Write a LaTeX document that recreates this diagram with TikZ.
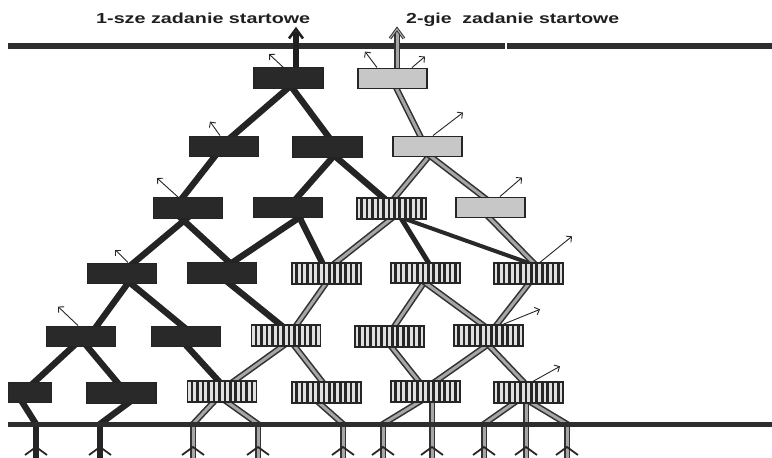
\documentclass[tikz,border=0pt]{standalone}
\usepackage{fontspec}
\setmainfont{Liberation Sans}
\usetikzlibrary{backgrounds,arrows.meta}

\begin{document}
\begin{tikzpicture}[x=1pt,y=-1pt,
  nbox/.style={minimum width=69pt, minimum height=20.5pt, inner sep=0pt, line width=1.4pt},
  darkbox/.style={nbox, draw=black!86, fill=black!84},
  graybox/.style={nbox, draw=black!85, fill=black!22},
  stripebox/.style={nbox, draw=black!85, line width=1.8pt, fill=black!12,
    path picture={\foreach \k in {0,...,11}
      \draw[black!85, line width=2.6pt]
        ([xshift=4.6pt+\k*5.45pt]path picture bounding box.north west) --
        ([xshift=4.6pt+\k*5.45pt]path picture bounding box.south west);}},
  bedge/.style={draw=black!86, line width=6.3pt, shorten <=-5pt, shorten >=-5pt},
  medge/.style={draw=black!84, line width=4pt, shorten <=-5pt, shorten >=-5pt},
  gedge/.style={draw=black!80, line width=1.6pt, double=black!35, double distance=3pt,
    shorten <=-5pt, shorten >=-5pt},
  tostem/.style={shorten >=-1pt},
  bstem/.style={draw=black!86, line width=6pt},
  gstem/.style={draw=black!80, line width=1.6pt, double=black!35, double distance=3pt},
  fletch/.style={draw=black!85, line width=1.8pt},
  rule/.style={draw=black!82, line width=5.5pt},
  tarrow/.style={draw=black!85, line width=0.9pt, -{Straight Barb[length=4pt,width=8pt]}},
  title/.style={anchor=base west, inner sep=0pt, text=black!88},
]
\useasboundingbox (0,0) rectangle (772,458);

% titles
\node[title] (t1) at (96,23) {\resizebox{214pt}{10.5pt}{\bfseries 1-sze zadanie startowe}};
\node[title] (t2) at (406,23) {\resizebox{213pt}{10.5pt}{\bfseries 2-gie\hspace{0.55em}zadanie startowe}};

% row 1
\node[darkbox] (D1) at (288.5,78) {};
\node[graybox] (G1) at (392.5,78.5) {};
% row 2
\node[darkbox] (R2a) at (224,146.5) {};
\node[darkbox] (R2b) at (327.5,147) {};
\node[graybox] (R2c) at (427.5,146.5) {};
% row 3
\node[darkbox] (R3a) at (188,208) {};
\node[darkbox] (R3b) at (288,207.5) {};
\node[stripebox] (R3c) at (391.5,208.5) {};
\node[graybox] (R3d) at (490.5,207.5) {};
% row 4
\node[darkbox] (R4a) at (122,273.5) {};
\node[darkbox] (R4b) at (222,273) {};
\node[stripebox] (R4c) at (326.5,273.5) {};
\node[stripebox] (R4d) at (425.5,273) {};
\node[stripebox] (R4e) at (528.5,273.5) {};
% row 5
\node[darkbox] (R5a) at (81,336.5) {};
\node[darkbox] (R5b) at (186,336.5) {};
\node[stripebox] (R5c) at (286,335.5) {};
\node[stripebox] (R5d) at (389.5,336.5) {};
\node[stripebox] (R5e) at (488.5,335.5) {};
% row 6
\node[darkbox, minimum width=43pt] (R6a) at (30,392.5) {};
\node[darkbox] (R6b) at (121.5,393) {};
\node[stripebox] (R6c) at (222,391.5) {};
\node[stripebox] (R6d) at (326.5,392.5) {};
\node[stripebox] (R6e) at (425.5,391.5) {};
\node[stripebox] (R6f) at (528.5,392.5) {};

% feet on the lower rule
\coordinate (s1) at (36,424);
\coordinate (s2) at (100,424);
\coordinate (s3) at (193,424);
\coordinate (s4) at (258,424);
\coordinate (s5) at (343,424);
\coordinate (s6) at (383,424);
\coordinate (s7) at (432,424);
\coordinate (s8) at (484,424);
\coordinate (s9) at (526,424);
\coordinate (s10) at (567,424);

% arrow tips above the upper rule
\coordinate (a1) at (296,29);
\coordinate (a2) at (397,29);

\begin{scope}[on background layer]
  % solid links
  \draw[bedge] ([xshift=-1.5pt]D1.south) -- ([xshift=9pt]R2a.north);
  \draw[bedge] ([xshift=4.5pt]D1.south) -- ([xshift=0.5pt]R2b.north);
  \draw[bedge] ([xshift=-10pt]R2a.south) -- ([xshift=-5pt]R3a.north);
  \draw[bedge] ([xshift=4.5pt]R2b.south) -- ([xshift=10pt]R3b.north);
  \draw[bedge] ([xshift=9.5pt]R2b.south) -- ([xshift=-8.5pt]R3c.north);
  \draw[bedge] ([xshift=-2pt]R3a.south) -- ([xshift=12pt]R4a.north);
  \draw[bedge] ([xshift=-6pt]R3a.south) -- ([xshift=7pt]R4b.north);
  \draw[bedge] ([xshift=10pt]R3b.south) -- ([xshift=11pt]R4b.north);
  \draw[bedge] ([xshift=12pt]R3b.south) -- ([xshift=-4.5pt]R4c.north);
  \draw[bedge] ([xshift=5pt]R4a.south) -- ([xshift=16pt]R5a.north);
  \draw[bedge] ([xshift=10pt]R4a.south) -- ([xshift=-4pt]R5b.north);
  \draw[bedge] ([xshift=8pt]R4b.south) -- ([xshift=-6pt]R5c.north);
  \draw[bedge] ([xshift=-9pt]R5a.south) -- ([xshift=5pt]R6a.north);
  \draw[bedge] ([xshift=7pt]R5a.south) -- ([xshift=-4.5pt]R6b.north);
  \draw[bedge] ([xshift=2pt]R5b.south) -- ([xshift=-4pt]R6c.north);
  \draw[bedge, line width=5pt] ([xshift=10.5pt]R3c.south) -- ([xshift=2.5pt]R4d.north);
  \draw[medge] ([xshift=15.5pt]R3c.south) -- ([xshift=-1.5pt]R4e.north);
  \draw[bedge, tostem] ([xshift=-7pt]R6a.south) -- (s1);
  \draw[bedge, tostem] ([xshift=5.5pt]R6b.south) -- (s2);

  % shaded links
  \draw[gedge] ([xshift=4.5pt]G1.south) -- ([xshift=-7.5pt]R2c.north);
  \draw[gedge] ([xshift=0.5pt]R2c.south) -- ([xshift=3.5pt]R3c.north);
  \draw[gedge] ([xshift=4.5pt]R2c.south) -- ([xshift=-7.5pt]R3d.north);
  \draw[gedge] ([xshift=-0.5pt]R3d.south) -- ([xshift=4.5pt]R4e.north);
  \draw[gedge] ([xshift=-1.5pt]R3c.south) -- ([xshift=9.5pt]R4c.north);
  \draw[gedge] ([xshift=-1.5pt]R4c.south) -- ([xshift=11pt]R5c.north);
  \draw[gedge] ([xshift=-2.5pt]R4d.south) -- ([xshift=5.5pt]R5d.north);
  \draw[gedge] ([xshift=1.5pt]R4d.south) -- ([xshift=-6.5pt]R5e.north);
  \draw[gedge] ([xshift=-0.5pt]R4e.south) -- ([xshift=8.5pt]R5e.north);
  \draw[gedge] ([xshift=-4pt]R5c.south) -- ([xshift=13pt]R6c.north);
  \draw[gedge] ([xshift=9pt]R5c.south) -- ([xshift=-4.5pt]R6d.north);
  \draw[gedge] ([xshift=2.5pt]R5d.south) -- ([xshift=-7.5pt]R6e.north);
  \draw[gedge] ([xshift=-3.5pt]R5e.south) -- ([xshift=11.5pt]R6e.north);
  \draw[gedge] ([xshift=1.5pt]R5e.south) -- ([xshift=-5.5pt]R6f.north);
  \draw[gedge, tostem] ([xshift=-9pt]R6c.south) -- (s3);
  \draw[gedge, tostem] ([xshift=6pt]R6c.south) -- (s4);
  \draw[gedge, tostem] ([xshift=-6.5pt]R6d.south) -- (s5);
  \draw[gedge, tostem] ([xshift=-7.5pt]R6e.south) -- (s6);
  \draw[gedge, tostem] ([xshift=6.5pt]R6e.south) -- (s7);
  \draw[gedge, tostem] ([xshift=-15.5pt]R6f.south) -- (s8);
  \draw[gedge, tostem] ([xshift=-2.5pt]R6f.south) -- (s9);
  \draw[gedge, tostem] ([xshift=4.5pt]R6f.south) -- (s10);

  % stems below the lower rule
  \foreach \s in {s1,s2}{
    \draw[bstem] (\s) -- ++(0,34);
    \draw[fletch] (\s) ++(-11,31) -- ++(11,-8) -- ++(11,8);
  }
  \foreach \s in {s3,s4,s5,s6,s7,s8,s9,s10}{
    \draw[gstem] (\s) -- ++(0,34);
    \draw[fletch] (\s) ++(-11,31) -- ++(11,-8) -- ++(11,8);
  }

  % rules
  \draw[rule] (8,46) -- (504.5,46);
  \draw[rule] (506.5,46) -- (772,46);
  \draw[rule, line width=5pt] (8,424) -- (772,424);
\end{scope}

% leaving arrows
\draw[draw=black!88, line width=6pt, shorten >=3pt] ([xshift=7.5pt]D1.north) -- (a1);
\draw[draw=black!88, line width=2.6pt, line join=miter] (a1) ++(-7,9.5) -- ++(7,-9.5) -- ++(7,9.5);
\draw[gstem, shorten >=3pt] ([xshift=4.5pt]G1.north) -- (a2);
\draw[draw=black!80, line width=1pt, double=black!30, double distance=1pt, line join=miter]
  (a2) ++(-7,9.5) -- ++(7,-9.5) -- ++(7,9.5);

% small outgoing arrows
\draw[tarrow] ([xshift=-5.5pt]D1.north) -- ++(-14,-13);
\draw[tarrow] ([xshift=-15.5pt]G1.north) -- ++(-12,-16);
\draw[tarrow] ([xshift=19.5pt]G1.north) -- ++(13,-11);
\draw[tarrow] ([xshift=-4pt]R2a.north) -- ++(-10,-14);
\draw[tarrow] ([xshift=5.5pt]R2c.north) -- ++(30,-23);
\draw[tarrow] ([xshift=-10pt]R3a.north) -- ++(-21,-19);
\draw[tarrow] ([xshift=9.5pt]R3d.north) -- ++(22,-19);
\draw[tarrow] ([xshift=6pt]R4a.north) -- ++(-13,-13);
\draw[tarrow] ([xshift=11.5pt]R4e.north) -- ++(32,-26);
\draw[tarrow] ([xshift=-3pt]R5a.north) -- ++(-20,-19);
\draw[tarrow] ([xshift=14.5pt]R5e.north) -- ++(37,-15);
\draw[tarrow] ([xshift=4.5pt]R6f.north) -- ++(27,-15);
\end{tikzpicture}
\end{document}
